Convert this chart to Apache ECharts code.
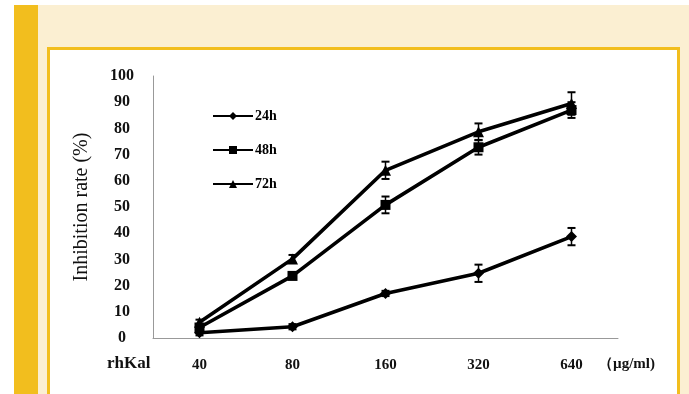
<!DOCTYPE html>
<html><head><meta charset="utf-8">
<script src="https://cdn.jsdelivr.net/npm/echarts@6/dist/echarts.min.js"></script>
<style>
html,body{margin:0;padding:0;background:#fff;width:689px;height:394px;overflow:hidden;position:relative}
#cream{position:absolute;left:38px;top:5px;width:651px;height:389px;background:#FBEFD2}
#bar{position:absolute;left:14px;top:5px;width:24px;height:389px;background:#F2BE1E}
#panel{position:absolute;left:47px;top:47px;width:627px;height:347px;border:3px solid #F2BE1E;border-bottom:none;background:#fff}
#chart{position:absolute;left:0;top:0;width:689px;height:394px}
</style></head>
<body>
<div id="cream"></div><div id="bar"></div><div id="panel"></div>
<div id="chart"></div>
<script>
const categories = ['40','80','160','320','640'];
const yTicks = [0,10,20,30,40,50,60,70,80,90,100];
const s24 = [2, 4.3, 17, 24.7, 38.7];
const s48 = [4, 23.7, 50.8, 72.8, 87];
const s72 = [6, 30.2, 64, 78.7, 89.5];
const e24 = [1, 1, 1, 3.3, 3.3];
const e48 = [1, 1.2, 3.2, 2.8, 3];
const e72 = [1, 1.5, 3.3, 3.2, 4.3];
const seriesNames = ['24h','48h','72h'];

const font = 'Times New Roman, Liberation Serif, serif';
const chart = echarts.init(document.getElementById('chart'));

function errData(vals, errs){ return vals.map((v,i)=>[i, v, errs[i]]); }
function errSeries(vals, errs){
  return {
    type:'custom', silent:true, z:3,
    data: errData(vals, errs),
    renderItem: function(params, api){
      const x = api.value(0), v = api.value(1), e = api.value(2);
      const hi = api.coord([x, v+e]), lo = api.coord([x, v-e]);
      const w = 4;
      return {type:'group', children:[
        {type:'line', shape:{x1:hi[0],y1:hi[1],x2:lo[0],y2:lo[1]}, style:{stroke:'#000',lineWidth:1.5}},
        {type:'line', shape:{x1:hi[0]-w,y1:hi[1],x2:hi[0]+w,y2:hi[1]}, style:{stroke:'#000',lineWidth:2}},
        {type:'line', shape:{x1:lo[0]-w,y1:lo[1],x2:lo[0]+w,y2:lo[1]}, style:{stroke:'#000',lineWidth:2}}
      ]};
    }
  };
}
function lineSeries(name, data, symbol, size){
  return {name:name, type:'line', data:data, symbol:symbol, symbolSize:size,
    lineStyle:{color:'#000',width:3.6}, itemStyle:{color:'#000'}, z:2};
}

chart.setOption({
  animation:false,
  backgroundColor:'transparent',
  grid:{left:153, right:71, top:76, bottom:56},
  legend:{
    orient:'vertical', left:207, top:104, itemGap:20, itemWidth:40, itemHeight:10,
    data:seriesNames,
    textStyle:{fontFamily:font, fontWeight:'bold', fontSize:14, color:'#000', padding:[0,0,0,-3]}
  },
  xAxis:{
    type:'category', data:categories, boundaryGap:true,
    axisLine:{lineStyle:{color:'#999',width:1}}, axisTick:{show:false},
    axisLabel:{fontFamily:font, fontWeight:'bold', fontSize:15, color:'#111', margin:20}
  },
  yAxis:{
    type:'value', min:0, max:100, interval:10,
    name:'Inhibition rate (%)', nameLocation:'middle', nameGap:61, nameRotate:90,
    nameTextStyle:{fontFamily:font, fontSize:20, color:'#111'},
    axisLine:{show:true, lineStyle:{color:'#999',width:1}}, axisTick:{show:false},
    splitLine:{show:false},
    axisLabel:{fontFamily:font, fontWeight:'bold', fontSize:16, color:'#111', margin:31, align:'center',
      formatter:function(v){ return yTicks.indexOf(v)>=0 ? String(v) : ''; }}
  },
  graphic:[
    {type:'text', left:107, top:355, style:{text:'rhKal', font:'bold 17px '+font, fill:'#111'}},
    {type:'text', left:598, top:357, style:{text:'（µg/ml)', font:'bold 15px '+font, fill:'#111'}}
  ],
  series:[
    lineSeries(seriesNames[0], s24, 'diamond', 11),
    lineSeries(seriesNames[1], s48, 'rect', 10),
    lineSeries(seriesNames[2], s72, 'triangle', 11),
    errSeries(s24, e24), errSeries(s48, e48), errSeries(s72, e72)
  ]
});
</script>
</body></html>
